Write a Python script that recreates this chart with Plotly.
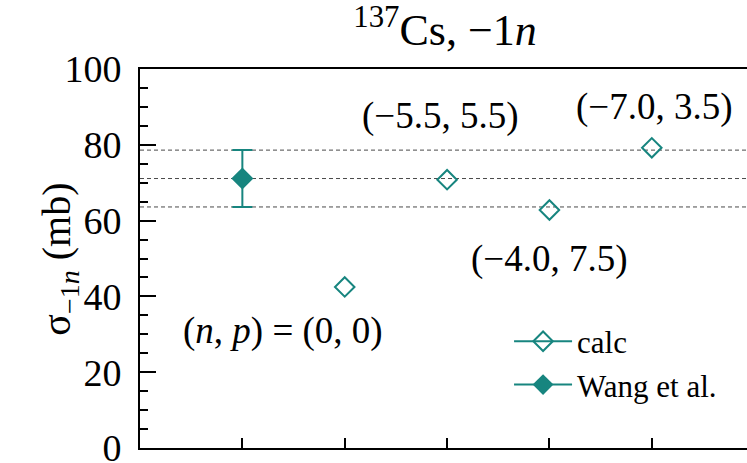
import plotly.graph_objects as go

# Category positions along the x axis
calc_x = [2, 3, 4, 5]
calc_y = [42.5, 70.8, 62.8, 79.2]
calc_labels = ["(<i>n</i>, <i>p</i>) = (0, 0)", "(\u22125.5, 5.5)", "(\u22124.0, 7.5)", "(\u22127.0, 3.5)"]

wang_x = [1]
wang_y = [71.1]
wang_err = [7.5]

TEAL = "#17857f"
FONT = "Liberation Serif"

fig = go.Figure()

# Reference band from the measurement: central value and +/- uncertainty
for yv in [wang_y[0] - wang_err[0], wang_y[0], wang_y[0] + wang_err[0]]:
    fig.add_shape(type="line", xref="paper", x0=0, x1=1, yref="y", y0=yv, y1=yv,
                  line=dict(color="#4a4a4a", width=1, dash="4px,3px"), layer="below")

fig.add_trace(go.Scatter(
    x=calc_x, y=calc_y, mode="markers", showlegend=False,
    marker=dict(symbol="diamond-open", size=15, color=TEAL, line=dict(width=2, color=TEAL)),
))
fig.add_trace(go.Scatter(
    x=wang_x, y=wang_y, mode="markers", showlegend=False,
    marker=dict(symbol="diamond", size=17, color=TEAL),
    error_y=dict(type="data", array=wang_err, color=TEAL, thickness=2, width=10),
))

# Legend entries (line + marker key)
fig.add_trace(go.Scatter(
    x=[None], y=[None], mode="lines+markers", name="calc",
    line=dict(color=TEAL, width=2),
    marker=dict(symbol="diamond-open", size=15, color=TEAL, line=dict(width=2, color=TEAL)),
))
fig.add_trace(go.Scatter(
    x=[None], y=[None], mode="lines+markers", name="Wang et al.",
    line=dict(color=TEAL, width=2),
    marker=dict(symbol="diamond", size=17, color=TEAL),
))

# (n, p) labels next to the calculated points
shifts = [(-62, -44), (-7, 64), (0, -49), (3, 41)]
for x, y, t, (dx, dy) in zip(calc_x, calc_y, calc_labels, shifts):
    fig.add_annotation(x=x, y=y, text=t, showarrow=False, xshift=dx, yshift=dy,
                       font=dict(family=FONT, size=37, color="black"))

# y-axis title
fig.add_annotation(xref="paper", yref="paper", x=(32 - 140) / 607, y=0.497,
                   text="\u03c3<sub>\u22121<i>n</i></sub> (mb)", textangle=-90,
                   showarrow=False, font=dict(family=FONT, size=40, color="black"))

fig.update_layout(
    width=747, height=463,
    margin=dict(l=140, r=0, t=69, b=15),
    paper_bgcolor="white", plot_bgcolor="white",
    font=dict(family=FONT, color="black"),
    title=dict(text="<sup>137</sup>Cs, \u22121<i>n</i>", x=445 / 747, xanchor="center",
               y=1 - 30 / 463, yanchor="middle", font=dict(family=FONT, size=44, color="black")),
    showlegend=True,
    legend=dict(x=0.608, y=0.352, xanchor="left", yanchor="top", bgcolor="rgba(0,0,0,0)",
                font=dict(family=FONT, size=31, color="black"), itemwidth=58, tracegroupgap=0),
)

fig.update_xaxes(range=[0, 5.93], showgrid=False, zeroline=False, showline=True,
                 linecolor="black", linewidth=2, mirror=True, automargin=False,
                 ticks="inside", tickmode="array", tickvals=[1, 2, 3, 4, 5], ticklen=10,
                 tickwidth=2, tickcolor="black", showticklabels=False)
fig.update_yaxes(range=[0, 100], showgrid=False, zeroline=False, showline=True,
                 linecolor="black", linewidth=2, mirror=False, automargin=False,
                 ticks="inside", dtick=20, ticklen=16, tickwidth=2, tickcolor="black",
                 tickfont=dict(family=FONT, size=38, color="black"), ticklabelstandoff=9,
                 ticklabeloverflow="allow",
                 minor=dict(dtick=5, ticks="inside", ticklen=8, tickwidth=2, tickcolor="black"))

fig.write_html("out.html")
